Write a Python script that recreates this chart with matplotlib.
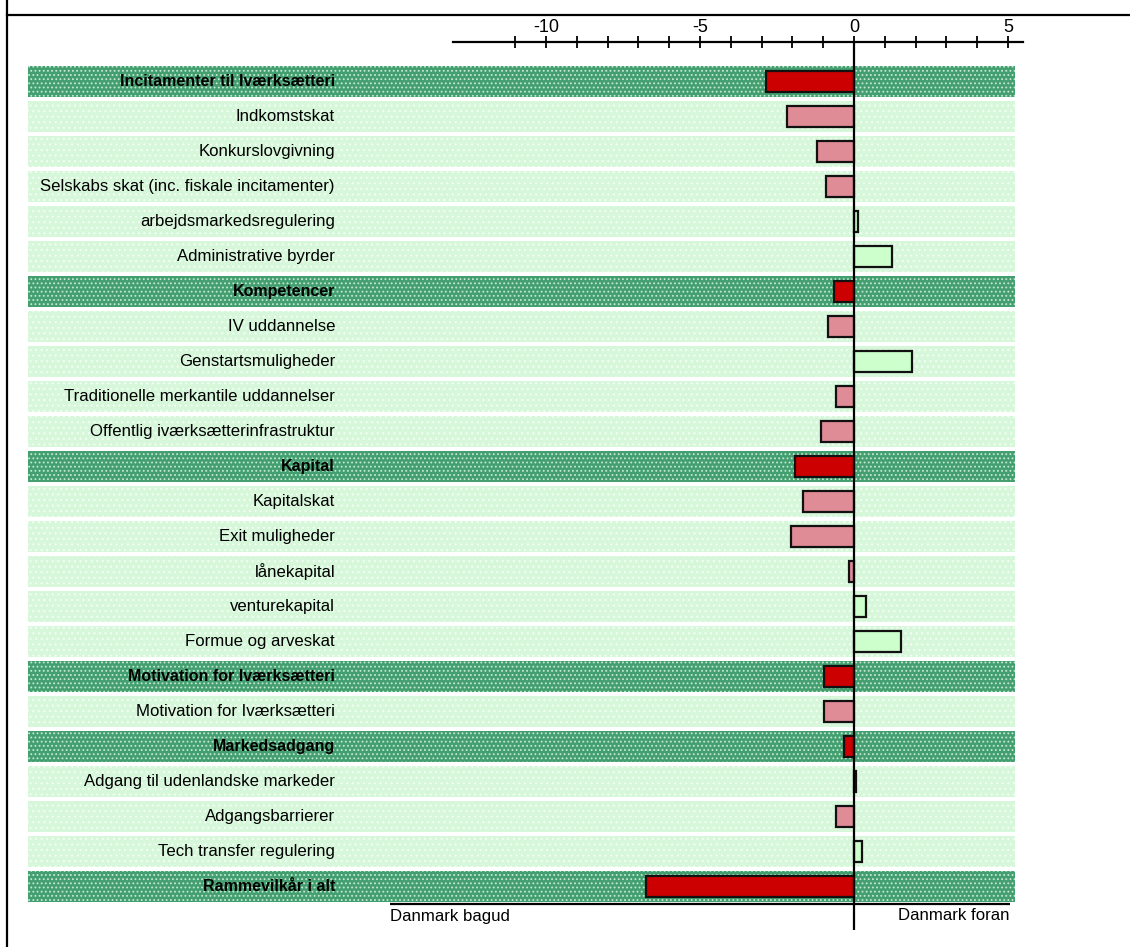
import matplotlib
matplotlib.use("Agg")
import matplotlib.pyplot as plt
from matplotlib.lines import Line2D
import numpy as np

plt.rcParams['font.family'] = ['Liberation Sans', 'DejaVu Sans']
plt.rcParams['hatch.linewidth'] = 0.8

labels = [
    "Incitamenter til Iværksætteri",
    "Indkomstskat",
    "Konkurslovgivning",
    "Selskabs skat (inc. fiskale incitamenter)",
    "arbejdsmarkedsregulering",
    "Administrative byrder",
    "Kompetencer",
    "IV uddannelse",
    "Genstartsmuligheder",
    "Traditionelle merkantile uddannelser",
    "Offentlig iværksætterinfrastruktur",
    "Kapital",
    "Kapitalskat",
    "Exit muligheder",
    "lånekapital",
    "venturekapital",
    "Formue og arveskat",
    "Motivation for Iværksætteri",
    "Motivation for Iværksætteri",
    "Markedsadgang",
    "Adgang til udenlandske markeder",
    "Adgangsbarrierer",
    "Tech transfer regulering",
    "Rammevilkår i alt",
]
is_header = [True, False, False, False, False, False,
             True, False, False, False, False,
             True, False, False, False, False, False,
             True, False,
             True, False, False, False,
             True]
values = [-2.86, -2.18, -1.20, -0.91, 0.13, 1.23,
          -0.65, -0.84, 1.88, -0.58, -1.07,
          -1.92, -1.66, -2.05, -0.15, 0.38, 1.53,
          -0.98, -0.97,
          -0.31, 0.07, -0.60, 0.27,
          -6.75]
major_ticks = [-10, -5, 0, 5]
minor_ticks = list(range(-11, 6))
left_note = "Danmark bagud"
right_note = "Danmark foran"

W, H = 1130, 947
fig = plt.figure(figsize=(W / 100, H / 100), dpi=100)

zero_px = 854.0
unit_px = 30.8
ax_left_px, ax_right_px = 28, 1015
ax_top_px, ax_bot_px = 64, 904
ax = fig.add_axes([ax_left_px / W, 1 - ax_bot_px / H,
                   (ax_right_px - ax_left_px) / W, (ax_bot_px - ax_top_px) / H])
ax.set_xlim((ax_left_px - zero_px) / unit_px, (ax_right_px - zero_px) / unit_px)
n = len(labels)
ax.set_ylim(n - 0.5, -0.5)

def px2x(p):
    return (p - zero_px) / unit_px

rows = np.arange(n)
# background bands
for i, hdr in enumerate(is_header):
    if hdr:
        ax.axhspan(i - 0.45, i + 0.45, facecolor='#449F70', edgecolor='#C4E8D2',
                   hatch='....', lw=0, zorder=0)
    else:
        ax.axhspan(i - 0.44, i + 0.44, facecolor='#D6F7DA', edgecolor='#F2FFF2',
                   hatch='...', lw=0, zorder=0)

colors = []
for v, hdr in zip(values, is_header):
    if hdr:
        colors.append('#CC0000')
    elif v < 0:
        colors.append('#E08C96')
    else:
        colors.append('#CCFFCC')
ax.barh(rows, values, height=0.6, color=colors, edgecolor='#111111',
        linewidth=1.6, zorder=2)

FS = 12.1
FS_B = 11.5
# category labels
for i, (lab, hdr) in enumerate(zip(labels, is_header)):
    ax.text(px2x(335), i, lab, ha='right', va='center',
            fontsize=FS_B if hdr else FS,
            fontweight='bold' if hdr else 'normal', color='black', zorder=3)

# zero line
ax.vlines(0, (42 - 81.5) / 35, (930 - 81.5) / 35, colors='black', lw=1.6,
          clip_on=False, zorder=4)
# bottom line
ax.hlines(n - 0.5, px2x(390), px2x(1010), colors='black', lw=1.6,
          clip_on=False, zorder=4)
ax.text(px2x(390), n - 0.5 + 12 / 35, left_note, ha='left', va='center',
        fontsize=FS)
ax.text(px2x(1009), n - 0.5 + 12 / 35, right_note, ha='right', va='center',
        fontsize=FS)

# axes styling: top axis only
for s in ['left', 'right', 'bottom']:
    ax.spines[s].set_visible(False)
ax.spines['top'].set_position(('outward', 22 * 72 / 100))
ax.spines['top'].set_bounds(px2x(453), px2x(1023))
ax.spines['top'].set_linewidth(1.6)
ax.xaxis.set_ticks_position('top')
ax.xaxis.set_label_position('top')
ax.set_xticks(major_ticks)
ax.set_xticks(minor_ticks, minor=True)
ax.set_xticklabels([str(t) for t in major_ticks], fontsize=13)
ax.tick_params(axis='x', which='both', direction='inout', length=9, width=1.3,
               pad=0)
ax.set_yticks([])
ax.set_facecolor('none')

# outer frame (top and left)
fig.add_artist(Line2D([7 / W, 1.0], [1 - 15.5 / H, 1 - 15.5 / H],
                      transform=fig.transFigure, color='black', lw=1.6))
fig.add_artist(Line2D([7 / W, 7 / W], [0.0, 1.0],
                      transform=fig.transFigure, color='black', lw=1.6))

fig.savefig("out.png", dpi=100)
